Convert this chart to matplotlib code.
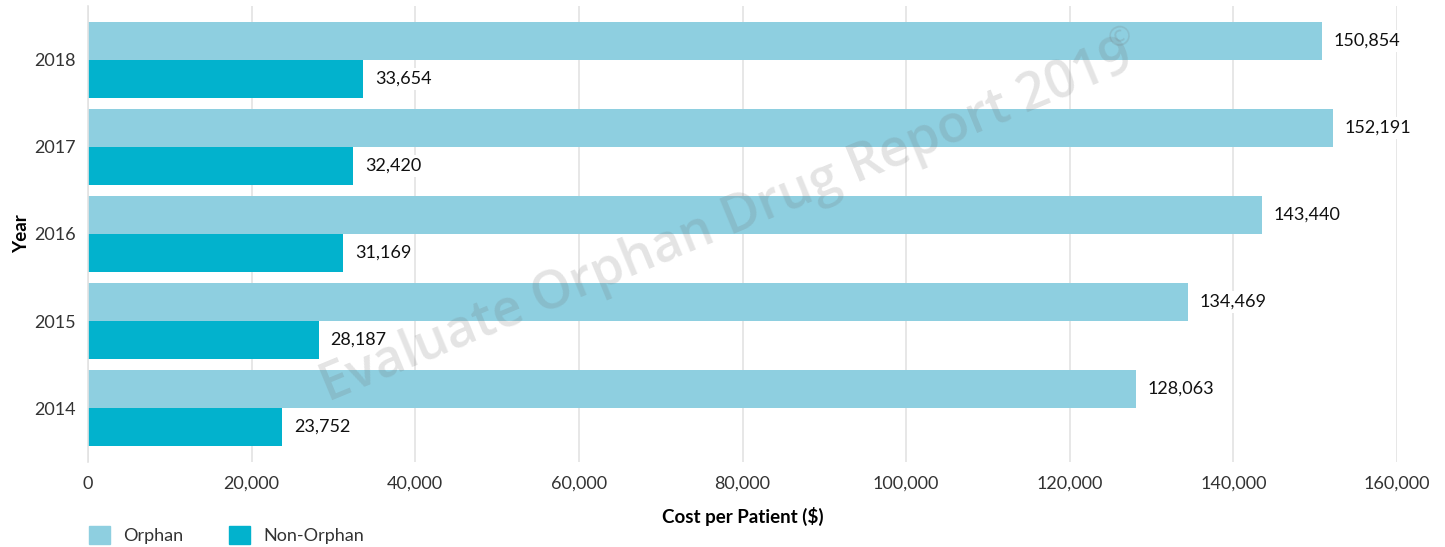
import matplotlib
matplotlib.use("Agg")
import matplotlib.pyplot as plt
import numpy as np
from matplotlib.patches import Patch

years = ["2014", "2015", "2016", "2017", "2018"]
orphan = [128063, 134469, 143440, 152191, 150854]
non_orphan = [23752, 28187, 31169, 32420, 33654]
xticks = [0, 20000, 40000, 60000, 80000, 100000, 120000, 140000, 160000]

c_orphan = "#8ECFE0"
c_non = "#02B2CD"

plt.rcParams['font.family'] = ['Lato', 'DejaVu Sans']

fig = plt.figure(figsize=(14.45, 5.47), dpi=100)
ax = fig.add_axes([88/1445, 1-462/547, (1397-88)/1445, (462-6)/547])

y = np.arange(len(years))
h = 0.435
ax.barh(y + h/2, orphan, height=h, color=c_orphan, zorder=2)
ax.barh(y - h/2, non_orphan, height=h, color=c_non, zorder=2)

for yi, v in zip(y + h/2, orphan):
    ax.annotate(f"{v:,}", (v, yi), xytext=(8.5, 0), textcoords="offset points",
                va="center", ha="left", fontsize=13, color="#111111", zorder=4,
                bbox=dict(boxstyle="square,pad=0.15", fc="white", ec="none"))
for yi, v in zip(y - h/2, non_orphan):
    ax.annotate(f"{v:,}", (v, yi), xytext=(8.5, 0), textcoords="offset points",
                va="center", ha="left", fontsize=13, color="#111111", zorder=4,
                bbox=dict(boxstyle="square,pad=0.15", fc="white", ec="none"))

ax.set_xlim(0, 160000)
ax.set_ylim(-0.62, 4.62)
ax.set_xticks(xticks)
ax.set_xticklabels([f"{t:,}" for t in xticks], fontsize=13, color="#333333")
ax.set_yticks(y)
ax.set_yticklabels(years, fontsize=13, color="#333333")
ax.tick_params(axis="both", length=0, pad=10)
ax.tick_params(axis="y", pad=9)
ax.xaxis.grid(True, color="#e3e3e3", linewidth=1.2, zorder=0)
ax.set_axisbelow(True)
for s in ["top", "right", "bottom"]:
    ax.spines[s].set_visible(False)
ax.spines["left"].set_color("#e3e3e3")
ax.spines["left"].set_linewidth(1.2)

ax.set_xlabel("Cost per Patient ($)", fontsize=13.5, fontweight="bold", labelpad=11)
ax.set_ylabel("Year", fontsize=13.5, fontweight="bold", labelpad=3)

# watermark
ax.text(0.488, 0.525, "Evaluate Orphan Drug Report 2019", transform=ax.transAxes,
        fontsize=37.5, color="#707070", alpha=0.19, rotation=22.5, family="Open Sans",
        fontweight=600, ha="center", va="center", zorder=5, rotation_mode="anchor")
ax.text(0.789, 0.93, "\u00a9", transform=ax.transAxes,
        fontsize=20, color="#707070", alpha=0.19, rotation=22.5, family="Open Sans",
        ha="center", va="center", zorder=5, rotation_mode="anchor")

handles = [Patch(color=c_orphan, label="Orphan"), Patch(color=c_non, label="Non-Orphan")]
fig.legend(handles=handles, loc="lower left", bbox_to_anchor=(73/1445, -0.025), ncol=2,
           frameon=False, fontsize=13, handlelength=1.15, handleheight=1.15,
           columnspacing=2.5, handletextpad=0.75, labelcolor="#333333")

fig.savefig("out.png", dpi=100)
